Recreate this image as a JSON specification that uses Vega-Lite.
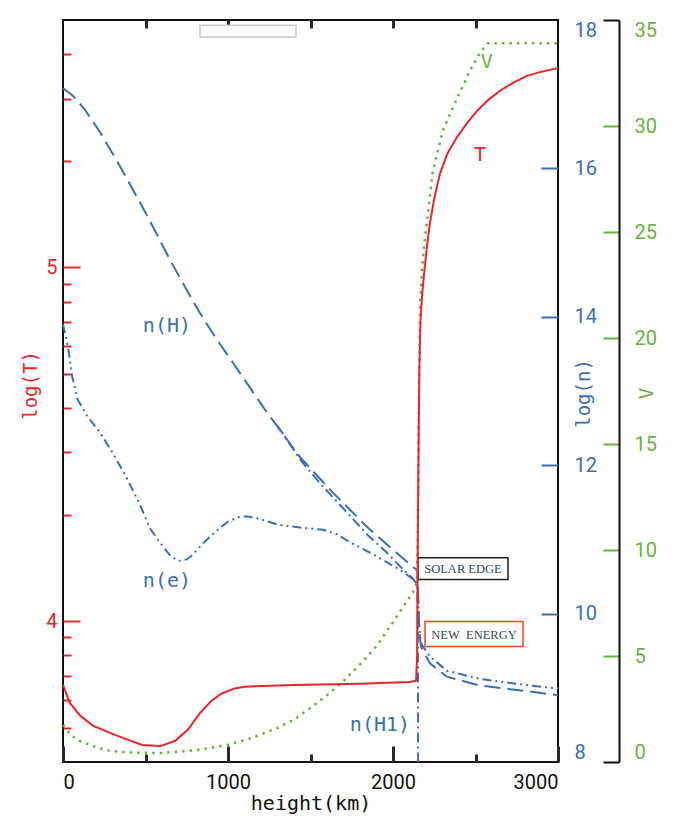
{
  "$schema": "https://vega.github.io/schema/vega-lite/v6.json",
  "width": 495,
  "height": 742,
  "autosize": {"type": "none"},
  "padding": {"left": 63, "top": 20, "right": 123, "bottom": 54},
  "background": "white",
  "config": {"view": {"stroke": "#111111", "strokeWidth": 2}, "axis": {"grid": false, "zindex": 2}},
  "datasets": {
    "T": [
      {"h": 0, "logT": 3.82}, {"h": 40, "logT": 3.77}, {"h": 100, "logT": 3.735}, {"h": 180, "logT": 3.705},
      {"h": 330, "logT": 3.676}, {"h": 480, "logT": 3.65}, {"h": 590, "logT": 3.647}, {"h": 680, "logT": 3.662},
      {"h": 760, "logT": 3.695}, {"h": 830, "logT": 3.74}, {"h": 900, "logT": 3.775}, {"h": 960, "logT": 3.795},
      {"h": 1040, "logT": 3.81}, {"h": 1100, "logT": 3.815}, {"h": 1400, "logT": 3.82}, {"h": 1800, "logT": 3.823},
      {"h": 2100, "logT": 3.828}, {"h": 2140, "logT": 3.832}, {"h": 2146, "logT": 3.9}, {"h": 2150, "logT": 4.2},
      {"h": 2155, "logT": 4.5}, {"h": 2160, "logT": 4.72}, {"h": 2167, "logT": 4.85}, {"h": 2178, "logT": 4.93},
      {"h": 2190, "logT": 4.99}, {"h": 2206, "logT": 5.06}, {"h": 2224, "logT": 5.125}, {"h": 2250, "logT": 5.195},
      {"h": 2285, "logT": 5.265}, {"h": 2330, "logT": 5.322}, {"h": 2388, "logT": 5.368}, {"h": 2450, "logT": 5.408},
      {"h": 2509, "logT": 5.442}, {"h": 2580, "logT": 5.474}, {"h": 2648, "logT": 5.499}, {"h": 2730, "logT": 5.522},
      {"h": 2812, "logT": 5.541}, {"h": 2900, "logT": 5.553}, {"h": 3000, "logT": 5.563}
    ],
    "n": [
      {"series": "n(H)", "h": 0, "logn": 17.08}, {"series": "n(H)", "h": 60, "logn": 16.98}, {"series": "n(H)", "h": 130, "logn": 16.8},
      {"series": "n(H)", "h": 224, "logn": 16.49}, {"series": "n(H)", "h": 340, "logn": 16.05}, {"series": "n(H)", "h": 467, "logn": 15.54},
      {"series": "n(H)", "h": 560, "logn": 15.15}, {"series": "n(H)", "h": 648, "logn": 14.77}, {"series": "n(H)", "h": 740, "logn": 14.4},
      {"series": "n(H)", "h": 830, "logn": 14.05}, {"series": "n(H)", "h": 930, "logn": 13.7}, {"series": "n(H)", "h": 1030, "logn": 13.38},
      {"series": "n(H)", "h": 1230, "logn": 12.73}, {"series": "n(H)", "h": 1436, "logn": 12.11}, {"series": "n(H)", "h": 1636, "logn": 11.63},
      {"series": "n(H)", "h": 1842, "logn": 11.17}, {"series": "n(H)", "h": 2000, "logn": 10.86}, {"series": "n(H)", "h": 2121, "logn": 10.63},
      {"series": "n(H)", "h": 2148, "logn": 10.58}, {"series": "n(H)", "h": 2155, "logn": 10.1}, {"series": "n(H)", "h": 2160, "logn": 9.75},
      {"series": "n(H)", "h": 2170, "logn": 9.55}, {"series": "n(H)", "h": 2224, "logn": 9.33}, {"series": "n(H)", "h": 2327, "logn": 9.15},
      {"series": "n(H)", "h": 2527, "logn": 9.03}, {"series": "n(H)", "h": 2830, "logn": 8.95}, {"series": "n(H)", "h": 3000, "logn": 8.9},
      {"series": "n(e)", "h": 0, "logn": 13.9}, {"series": "n(e)", "h": 15, "logn": 13.75}, {"series": "n(e)", "h": 30, "logn": 13.6},
      {"series": "n(e)", "h": 55, "logn": 13.2}, {"series": "n(e)", "h": 90, "logn": 12.88}, {"series": "n(e)", "h": 150, "logn": 12.65},
      {"series": "n(e)", "h": 224, "logn": 12.44}, {"series": "n(e)", "h": 300, "logn": 12.17}, {"series": "n(e)", "h": 388, "logn": 11.82},
      {"series": "n(e)", "h": 470, "logn": 11.45}, {"series": "n(e)", "h": 527, "logn": 11.15}, {"series": "n(e)", "h": 590, "logn": 10.95},
      {"series": "n(e)", "h": 650, "logn": 10.78}, {"series": "n(e)", "h": 700, "logn": 10.71}, {"series": "n(e)", "h": 750, "logn": 10.73},
      {"series": "n(e)", "h": 790, "logn": 10.8}, {"series": "n(e)", "h": 850, "logn": 10.95}, {"series": "n(e)", "h": 933, "logn": 11.12},
      {"series": "n(e)", "h": 1000, "logn": 11.24}, {"series": "n(e)", "h": 1073, "logn": 11.31}, {"series": "n(e)", "h": 1120, "logn": 11.31},
      {"series": "n(e)", "h": 1200, "logn": 11.27}, {"series": "n(e)", "h": 1300, "logn": 11.2}, {"series": "n(e)", "h": 1436, "logn": 11.16},
      {"series": "n(e)", "h": 1576, "logn": 11.13}, {"series": "n(e)", "h": 1660, "logn": 11.07}, {"series": "n(e)", "h": 1739, "logn": 10.96},
      {"series": "n(e)", "h": 1820, "logn": 10.87}, {"series": "n(e)", "h": 1903, "logn": 10.77}, {"series": "n(e)", "h": 2042, "logn": 10.59},
      {"series": "n(e)", "h": 2148, "logn": 10.42}, {"series": "n(e)", "h": 2155, "logn": 10.0}, {"series": "n(e)", "h": 2162, "logn": 9.7},
      {"series": "n(e)", "h": 2175, "logn": 9.58}, {"series": "n(e)", "h": 2224, "logn": 9.42}, {"series": "n(e)", "h": 2327, "logn": 9.23},
      {"series": "n(e)", "h": 2527, "logn": 9.12}, {"series": "n(e)", "h": 2830, "logn": 9.03}, {"series": "n(e)", "h": 3000, "logn": 8.99},
      {"series": "n(HI)", "h": 1300, "logn": 12.53}, {"series": "n(HI)", "h": 1436, "logn": 12.08}, {"series": "n(HI)", "h": 1560, "logn": 11.75},
      {"series": "n(HI)", "h": 1739, "logn": 11.32}, {"series": "n(HI)", "h": 1850, "logn": 11.05}, {"series": "n(HI)", "h": 1963, "logn": 10.82},
      {"series": "n(HI)", "h": 2050, "logn": 10.62}, {"series": "n(HI)", "h": 2121, "logn": 10.47}, {"series": "n(HI)", "h": 2148, "logn": 10.38},
      {"series": "n(HI)", "h": 2151, "logn": 9.6}, {"series": "n(HI)", "h": 2152, "logn": 8.0}
    ],
    "V": [
      {"h": 0, "V": 1.74}, {"h": 50, "V": 1.25}, {"h": 103, "V": 0.99}, {"h": 200, "V": 0.7}, {"h": 285, "V": 0.52},
      {"h": 400, "V": 0.45}, {"h": 588, "V": 0.42}, {"h": 800, "V": 0.55}, {"h": 994, "V": 0.8}, {"h": 1150, "V": 1.15},
      {"h": 1297, "V": 1.6}, {"h": 1400, "V": 2.0}, {"h": 1497, "V": 2.54}, {"h": 1600, "V": 3.15}, {"h": 1697, "V": 3.8},
      {"h": 1800, "V": 4.6}, {"h": 1903, "V": 5.49}, {"h": 2000, "V": 6.6}, {"h": 2060, "V": 7.3}, {"h": 2121, "V": 8.0},
      {"h": 2145, "V": 8.5}, {"h": 2150, "V": 10.5}, {"h": 2154, "V": 14}, {"h": 2158, "V": 18}, {"h": 2164, "V": 21.5},
      {"h": 2176, "V": 23.3}, {"h": 2192, "V": 24.6}, {"h": 2206, "V": 25.5}, {"h": 2242, "V": 27.9}, {"h": 2303, "V": 29.8},
      {"h": 2388, "V": 31.3}, {"h": 2466, "V": 32.6}, {"h": 2530, "V": 33.5}, {"h": 2576, "V": 33.9}, {"h": 2800, "V": 33.9},
      {"h": 3000, "V": 33.9}
    ],
    "nlabels": [
      {"text": "n(H)", "h": 630, "logn": 13.87},
      {"text": "n(e)", "h": 630, "logn": 10.44},
      {"text": "n(H1)", "h": 1921, "logn": 8.505}
    ],
    "boxes": [
      {"label": "", "kind": "blank", "h1": 830, "h2": 1412, "n1": 17.77, "n2": 17.93, "hc": 1121, "nc": 17.85},
      {"label": "SOLAR EDGE", "kind": "edge", "h1": 2152, "h2": 2697, "n1": 10.458, "n2": 10.754, "hc": 2424, "nc": 10.606},
      {"label": "NEW\u00a0\u00a0ENERGY", "kind": "energy", "h1": 2194, "h2": 2788, "n1": 9.556, "n2": 9.892, "hc": 2491, "nc": 9.717}
    ],
    "tlabel": [{"text": "T", "h": 2527, "logT": 5.318}],
    "vlabel": [{"text": "V", "h": 2569, "V": 33.0}]
  },
  "resolve": {"scale": {"y": "independent"}, "axis": {"x": "independent", "y": "independent"}},
  "layer": [
    {
      "data": {"name": "n"},
      "mark": {"type": "line", "color": "#3B6EB5", "strokeWidth": 2},
      "encoding": {
        "x": {"field": "h", "type": "quantitative", "scale": {"domain": [0, 3000], "nice": false, "zero": false},
          "axis": {"orient": "top", "values": [500, 1000, 1500, 2000, 2500], "labels": false, "ticks": true, "tickSize": -8, "tickColor": "#2a2a2a", "tickOpacity": 1, "tickWidth": 3, "domain": false, "title": null}},
        "y": {"field": "logn", "type": "quantitative", "scale": {"domain": [8, 18], "nice": false, "zero": false},
          "axis": {"orient": "right", "values": [8, 10, 12, 14, 16, 18], "tickSize": -17, "tickWidth": 2,
            "tickColor": {"condition": {"test": "datum.value == 8 || datum.value == 18", "value": "transparent"}, "value": "#3B6EB5"},
            "labelColor": "#3B6EB5", "labelFont": "Roboto", "labelFontSize": 20, "labelPadding": 33, "labelFlush": true, "domain": false,
            "title": "log(n)", "titleColor": "#3B6EB5", "titleFont": "DejaVu Sans Mono", "titleFontSize": 19, "titleFontWeight": "normal",
            "titleAngle": -90, "titleX": 25, "titleY": 373, "titleAlign": "center", "titleBaseline": "middle"}},
        "strokeDash": {"field": "series", "type": "nominal", "scale": {"domain": ["n(H)", "n(e)", "n(HI)"], "range": [[16, 7], [9, 4, 2, 4, 2, 4], [10, 4, 2, 4]]}, "legend": null}
      }
    },
    {
      "data": {"name": "nlabels"},
      "mark": {"type": "text", "color": "#3B6EB5", "font": "DejaVu Sans Mono", "fontSize": 20, "align": "center", "baseline": "middle"},
      "encoding": {
        "x": {"field": "h", "type": "quantitative", "axis": null},
        "y": {"field": "logn", "type": "quantitative", "scale": {"domain": [8, 18], "nice": false, "zero": false}, "axis": null},
        "text": {"field": "text"}
      }
    },
    {
      "data": {"name": "boxes"},
      "mark": {"type": "rect", "fill": "white", "strokeWidth": 1.5},
      "encoding": {
        "x": {"field": "h1", "type": "quantitative", "axis": null},
        "x2": {"field": "h2"},
        "y": {"field": "n1", "type": "quantitative", "scale": {"domain": [8, 18], "nice": false, "zero": false}, "axis": null},
        "y2": {"field": "n2"},
        "stroke": {"field": "kind", "type": "nominal", "scale": {"domain": ["blank", "edge", "energy"], "range": ["#c8c8c8", "#222222", "#F0441C"]}, "legend": null}
      }
    },
    {
      "data": {"name": "boxes"},
      "mark": {"type": "text", "color": "#2E4A5E", "font": "Liberation Serif", "fontSize": 12.5, "align": "center", "baseline": "middle"},
      "encoding": {
        "x": {"field": "hc", "type": "quantitative", "axis": null},
        "y": {"field": "nc", "type": "quantitative", "scale": {"domain": [8, 18], "nice": false, "zero": false}, "axis": null},
        "text": {"field": "label"}
      }
    },
    {
      "data": {"name": "V"},
      "mark": {"type": "line", "color": "#6AB23E", "strokeWidth": 2.5, "strokeDash": [2.5, 5]},
      "encoding": {
        "x": {"field": "h", "type": "quantitative", "axis": null},
        "y": {"field": "V", "type": "quantitative", "scale": {"domain": [0, 35], "nice": false, "zero": false},
          "axis": {"orient": "right", "offset": 61, "values": [0, 5, 10, 15, 20, 25, 30, 35], "tickSize": -16, "tickWidth": 2,
            "tickColor": {"condition": {"test": "datum.value == 0 || datum.value == 35", "value": "#111111"}, "value": "#6AB23E"},
            "domain": true, "domainColor": "#111111", "domainWidth": 2,
            "labelColor": "#6AB23E", "labelFont": "Roboto", "labelFontSize": 20, "labelPadding": 31, "labelFlush": true,
            "title": "V", "titleColor": "#6AB23E", "titleFont": "DejaVu Sans Mono", "titleFontSize": 19, "titleFontWeight": "normal",
            "titleAngle": -90, "titleX": 27, "titleY": 373, "titleAlign": "center", "titleBaseline": "middle"}}
      }
    },
    {
      "data": {"name": "vlabel"},
      "mark": {"type": "text", "color": "#6AB23E", "font": "DejaVu Sans Mono", "fontSize": 20, "align": "center", "baseline": "middle"},
      "encoding": {
        "x": {"field": "h", "type": "quantitative", "axis": null},
        "y": {"field": "V", "type": "quantitative", "scale": {"domain": [0, 35], "nice": false, "zero": false}, "axis": null},
        "text": {"field": "text"}
      }
    },
    {
      "data": {"name": "T"},
      "mark": {"type": "line", "color": "#E8262B", "strokeWidth": 2},
      "encoding": {
        "x": {"field": "h", "type": "quantitative",
          "axis": {"orient": "bottom", "values": [0, 1000, 2000, 3000], "format": "d",
            "ticks": true, "tickSize": -16, "tickColor": "#2a2a2a", "tickOpacity": 1, "tickWidth": 3, "domain": false,
            "labelFont": "Roboto", "labelFontSize": 20, "labelColor": "#111111", "labelPadding": 26, "labelFlush": true,
            "title": "height(km)", "titleFont": "DejaVu Sans Mono", "titleFontSize": 20, "titleFontWeight": "normal", "titleColor": "#111111",
            "titleY": 47, "titleBaseline": "alphabetic"}},
        "y": {"field": "logT", "type": "quantitative", "scale": {"domain": [3.60206, 5.69897], "nice": false, "zero": false},
          "axis": {"orient": "left",
            "values": [3.69897, 3.77815, 3.8451, 3.90309, 3.95424, 4, 4.30103, 4.47712, 4.60206, 4.69897, 4.77815, 4.8451, 4.90309, 4.95424, 5, 5.30103, 5.47712, 5.60206],
            "labelExpr": "datum.value == 4 ? '4' : datum.value == 5 ? '5' : ''",
            "tickSize": {"condition": {"test": "datum.value == 4 || datum.value == 5", "value": -17}, "value": -8},
            "tickColor": "#E8262B", "tickWidth": 2, "domain": false,
            "labelFont": "Roboto", "labelFontSize": 20, "labelColor": "#E8262B", "labelPadding": 23, "labelFlush": false,
            "title": "log(T)", "titleColor": "#E8262B", "titleFont": "DejaVu Sans Mono", "titleFontSize": 19, "titleFontWeight": "normal",
            "titleAngle": -90, "titleX": -33, "titleY": 365, "titleAlign": "center", "titleBaseline": "middle"}}
      }
    },
    {
      "data": {"name": "tlabel"},
      "mark": {"type": "text", "color": "#E8262B", "font": "DejaVu Sans Mono", "fontSize": 20, "align": "center", "baseline": "middle"},
      "encoding": {
        "x": {"field": "h", "type": "quantitative",
          "axis": {"orient": "bottom", "values": [500, 1500, 2500], "labels": false, "ticks": true, "tickSize": -8, "tickColor": "#2a2a2a", "tickOpacity": 1, "tickWidth": 3, "domain": false, "title": null}},
        "y": {"field": "logT", "type": "quantitative", "scale": {"domain": [3.60206, 5.69897], "nice": false, "zero": false}, "axis": null},
        "text": {"field": "text"}
      }
    }
  ]
}
